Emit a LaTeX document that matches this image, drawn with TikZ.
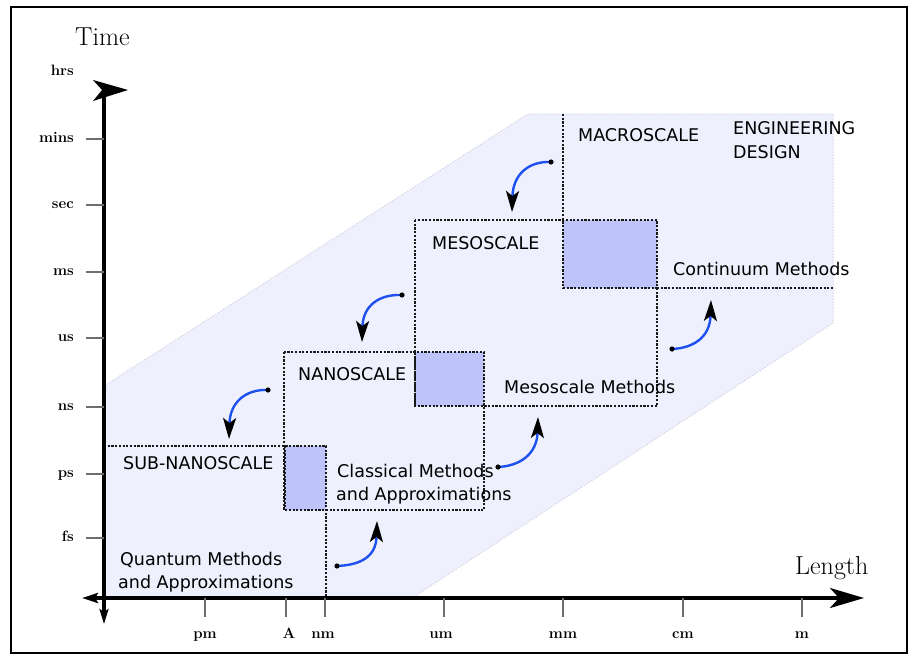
\documentclass[tikz,border=0pt]{standalone}
\usepackage{fontspec}
\newfontfamily\lab{DejaVu Sans}
\usetikzlibrary{arrows.meta}
\definecolor{regionfill}{RGB}{238,241,253}
\definecolor{regionedge}{RGB}{218,210,230}
\definecolor{sqfill}{RGB}{190,195,250}
\definecolor{arrowblue}{RGB}{30,80,240}
\definecolor{tickgray}{RGB}{110,110,110}
\begin{document}
\begin{tikzpicture}[x=1pt,y=-1pt,
  dots/.style={line width=2pt, dash pattern=on 2.2pt off 1.5pt, black!90},
  lbl/.style={font=\lab\fontsize{17.5}{20}\selectfont, anchor=base west, inner sep=0pt},
  ticklab/.style={font=\fontsize{15}{17}\selectfont\bfseries, inner sep=0pt},
  tickline/.style={line width=2pt, tickgray},
  curv/.style={line width=2.4pt, arrowblue, -{Stealth[length=21pt,width=13pt,inset=5pt,black]}},
  axisline/.style={line width=3.5pt, black},
  axtitle/.style={font=\fontsize{26}{30}\selectfont, inner sep=0pt, anchor=base west}]
\useasboundingbox (0,0) rectangle (916,661);
% frame
\draw[line width=2pt] (11,7) rectangle (907,653);
% region
\fill[regionfill] (104,598) -- (104,386) -- (528,114) -- (833,114) -- (833,323) -- (412,598) -- cycle;
\draw[regionedge, line width=1pt, dash pattern=on 1.5pt off 1.5pt] (104,386) -- (528,114) -- (833,114) -- (833,323) -- (412,598);
% shaded squares
\fill[sqfill] (285,446) rectangle (326,510);
\fill[sqfill] (415,352) rectangle (484,406);
\fill[sqfill] (563,220) rectangle (657,288);
% dotted boxes
\draw[dots] (104,446) -- (326,446) -- (326,598);
\draw[dots] (285,446) -- (285,510);
\draw[dots] (284,352) rectangle (484,510);
\draw[dots] (415,352) -- (415,406);
\draw[dots] (415,220) rectangle (657,406);
\draw[dots] (563,114) -- (563,288) -- (657,288);
\draw[dots] (657,288) -- (833,288);
% axes
\coordinate (xl) at (82,598);
\coordinate (xr) at (864,598);
\coordinate (yt) at (104,90);
\coordinate (yb) at (104,624);
\draw[axisline, {Stealth[length=16pt,width=10pt,inset=3pt]}-{Stealth[length=34pt,width=20pt,inset=9pt]}] (xl) -- (xr);
\draw[axisline, -{Stealth[length=15pt,width=9pt,inset=3pt]}] (yt) -- (yb);
\fill (93,80) -- (128,90) -- (93,101) -- (102,90) -- cycle;
% y ticks
\foreach \yy/\nm/\tx in {139/mins/mins,205/sec/sec,272/ms/ms,338/us/us,407/ns/ns,474/ps/ps,538/fs/fs}{
  \draw[tickline] (86,\yy) -- (104,\yy);
  \node[ticklab, anchor=base east] (t\nm) at (74,\yy+3.5) {\tx};
}
\node[ticklab, anchor=base east] (thrs) at (74,75.5) {hrs};
% x ticks
\foreach \xx/\lx/\nm/\tx in {205/205/pm/pm,286/289/A/A,325/323/nm/nm,444/441/um/um,563/563/mm/mm,683/683/cm/cm,802/802/m/m}{
  \draw[tickline] (\xx,598) -- (\xx,617);
  \node[ticklab, anchor=base] (l\nm) at (\lx,638) {\tx};
}
% axis titles
\node[axtitle] (time) at (75,45.5) {Time};
\node[axtitle] (length) at (795,574) {Length};
% labels
\node[lbl] (macro) at (578,141.5) {MACROSCALE};
\node[lbl] (eng1) at (733,134.5) {ENGINEERING};
\node[lbl] (eng2) at (733,158.5) {DESIGN};
\node[lbl] (meso) at (432,249.5) {MESOSCALE};
\node[lbl] (cont) at (673,275.5) {Continuum Methods};
\node[lbl] (nano) at (298,380.5) {NANOSCALE};
\node[lbl] (mesom) at (504,393.5) {Mesoscale Methods};
\node[lbl] (subnano) at (123,469.5) {SUB-NANOSCALE};
\node[lbl] (class1) at (337,477.5) {Classical Methods};
\node[lbl] (class2) at (336,500.5) {and Approximations};
\node[lbl] (quant1) at (120,565.5) {Quantum Methods};
\node[lbl] (quant2) at (118,588.5) {and Approximations};
% curved arrows
\coordinate (as) at (551,162); \coordinate (ae) at (512,212);
\coordinate (bs) at (402,295); \coordinate (be) at (362,342);
\coordinate (cs) at (268,390); \coordinate (ce) at (229,439);
\coordinate (ds) at (337,566); \coordinate (de) at (377,521);
\coordinate (es) at (498,467); \coordinate (ee) at (538,417);
\coordinate (fs) at (672,349); \coordinate (fe) at (711,300);
\draw[curv] (as) .. controls (529,161) and (513,174) .. (ae);
\draw[curv] (bs) .. controls (380,294) and (363,305) .. (be);
\draw[curv] (cs) .. controls (246,389) and (230,402) .. (ce);
\draw[curv] (ds) .. controls (359,565) and (376,558) .. (de);
\draw[curv] (es) .. controls (520,466) and (537,454) .. (ee);
\draw[curv] (fs) .. controls (694,348) and (710,337) .. (fe);
\foreach \p in {as,bs,cs,ds,es,fs} \fill (\p) circle (2.6pt);
\end{tikzpicture}
\end{document}
